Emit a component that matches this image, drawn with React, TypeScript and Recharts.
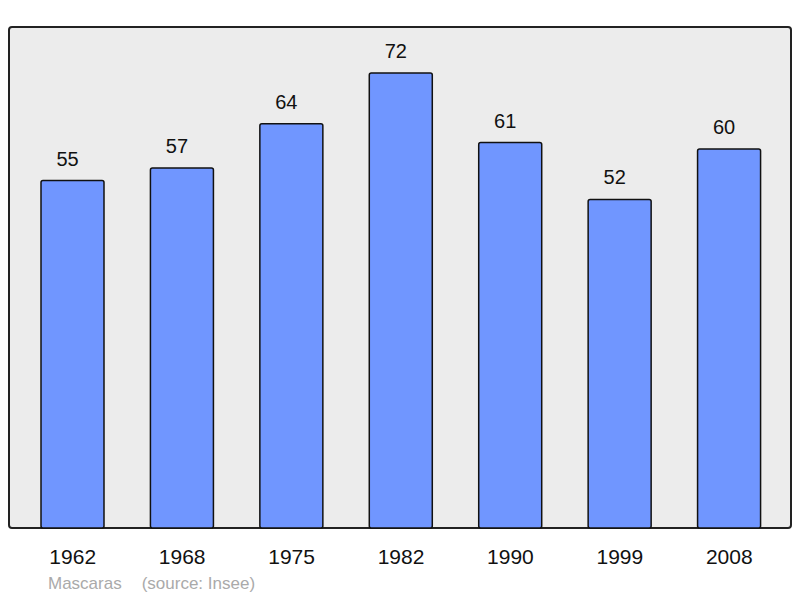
import { BarChart, Bar, XAxis, YAxis, LabelList } from "recharts";

const years = ["1962", "1968", "1975", "1982", "1990", "1999", "2008"];
const population = [55, 57, 64, 72, 61, 52, 60];

const data = years.map((year, i) => ({ year, population: population[i] }));

const font = "'Liberation Sans', Arial, sans-serif";

export default function App() {
  return (
    <div style={{ position: "fixed", left: 0, top: 0, width: 800, height: 598, background: "#fff", fontFamily: font }}>
      <div
        style={{
          position: "absolute",
          left: 8,
          top: 26,
          width: 784,
          height: 503,
          boxSizing: "border-box",
          border: "2px solid #222",
          borderRadius: 4,
          background: "#ececec",
        }}
      />
      <div style={{ position: "absolute", left: 0, top: 0 }}>
        <BarChart width={800} height={598} data={data} margin={{ top: 27, right: 16, bottom: 40, left: 18 }}>
          <XAxis
            dataKey="year"
            height={30}
            axisLine={false}
            tickLine={false}
            tickSize={0}
            tickMargin={21}
            interval={0}
            tick={{ fontSize: 21, fill: "#111", fontFamily: font }}
          />
          <YAxis hide domain={[0, 79.3]} />
          <Bar dataKey="population" barSize={63} fill="#7096ff" stroke="#111" strokeWidth={1.5} radius={2} isAnimationActive={false}>
            <LabelList
              dataKey="population"
              position="top"
              offset={15}
              dx={-5}
              style={{ fontSize: 20, fill: "#111", fontFamily: font }}
            />
          </Bar>
        </BarChart>
      </div>
      <div
        style={{
          position: "absolute",
          left: 48,
          top: 575,
          fontSize: 17,
          lineHeight: "17px",
          color: "#aaa",
          whiteSpace: "pre",
        }}
      >
        <span>Mascaras</span>
        <span style={{ marginLeft: 20 }}>(source: Insee)</span>
      </div>
    </div>
  );
}
